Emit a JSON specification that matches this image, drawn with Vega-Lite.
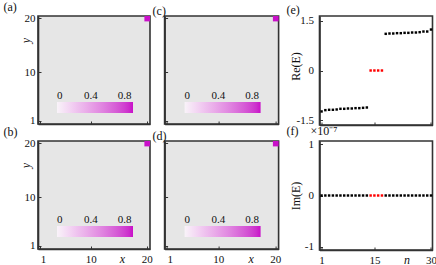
{
  "$schema": "https://vega.github.io/schema/vega-lite/v6.json",
  "padding": {"left": 2, "top": 0, "right": 0, "bottom": 0},
  "background": "white",
  "config": {
    "font": "Liberation Serif",
    "view": {"stroke": "#333333", "strokeWidth": 1.6, "strokeOpacity": 1},
    "axis": {"domain": true, "domainColor": "#333333", "domainWidth": 1.6, "domainOpacity": 1, "grid": false, "ticks": true, "tickSize": -3, "tickColor": "#333333", "tickWidth": 1, "labelFont": "Liberation Serif", "labelFontSize": 11, "labelColor": "#111", "titleFont": "Liberation Serif", "titleFontSize": 12, "titleFontWeight": "normal", "titleColor": "#111", "labelPadding": 6},
    "title": {"font": "Liberation Serif", "fontSize": 12, "fontWeight": "normal", "anchor": "start", "frame": "group", "offset": -2, "baseline": "bottom", "color": "#111"},
    "legend": {"labelFont": "Liberation Serif", "labelFontSize": 11, "labelColor": "#111", "padding": 0}
  },
  "datasets": {
    "heat": [
      {"panel": "a", "x": 20, "y": 20, "v": 0.9},
      {"panel": "b", "x": 20, "y": 20, "v": 0.9},
      {"panel": "c", "x": 20, "y": 20, "v": 0.9},
      {"panel": "d", "x": 20, "y": 20, "v": 0.9}
    ],
    "spec": [
      {"n": 1, "re": -1.24, "im": 0, "kind": "bulk"},
      {"n": 2, "re": -1.20, "im": 0, "kind": "bulk"},
      {"n": 3, "re": -1.19, "im": 0, "kind": "bulk"},
      {"n": 4, "re": -1.19, "im": 0, "kind": "bulk"},
      {"n": 5, "re": -1.18, "im": 0, "kind": "bulk"},
      {"n": 6, "re": -1.16, "im": 0, "kind": "bulk"},
      {"n": 7, "re": -1.16, "im": 0, "kind": "bulk"},
      {"n": 8, "re": -1.15, "im": 0, "kind": "bulk"},
      {"n": 9, "re": -1.15, "im": 0, "kind": "bulk"},
      {"n": 10, "re": -1.14, "im": 0, "kind": "bulk"},
      {"n": 11, "re": -1.14, "im": 0, "kind": "bulk"},
      {"n": 12, "re": -1.13, "im": 0, "kind": "bulk"},
      {"n": 13, "re": -1.12, "im": 0, "kind": "bulk"},
      {"n": 14, "re": 0, "im": 0, "kind": "zero"},
      {"n": 15, "re": 0, "im": 0, "kind": "zero"},
      {"n": 16, "re": 0, "im": 0, "kind": "zero"},
      {"n": 17, "re": 0, "im": 0, "kind": "zero"},
      {"n": 18, "re": 1.11, "im": 0, "kind": "bulk"},
      {"n": 19, "re": 1.12, "im": 0, "kind": "bulk"},
      {"n": 20, "re": 1.12, "im": 0, "kind": "bulk"},
      {"n": 21, "re": 1.13, "im": 0, "kind": "bulk"},
      {"n": 22, "re": 1.13, "im": 0, "kind": "bulk"},
      {"n": 23, "re": 1.14, "im": 0, "kind": "bulk"},
      {"n": 24, "re": 1.14, "im": 0, "kind": "bulk"},
      {"n": 25, "re": 1.15, "im": 0, "kind": "bulk"},
      {"n": 26, "re": 1.15, "im": 0, "kind": "bulk"},
      {"n": 27, "re": 1.16, "im": 0, "kind": "bulk"},
      {"n": 28, "re": 1.18, "im": 0, "kind": "bulk"},
      {"n": 29, "re": 1.18, "im": 0, "kind": "bulk"},
      {"n": 30, "re": 1.24, "im": 0, "kind": "bulk"}
    ]
  },
  "spacing": 3.5,
  "bounds": "full",
  "resolve": {"scale": {"color": "independent"}, "legend": {"color": "independent"}},
  "hconcat": [
    {
      "columns": 2,
      "spacing": {"row": 17, "column": 14.6},
      "bounds": "flush",
      "resolve": {"scale": {"color": "independent"}, "legend": {"color": "independent"}},
      "concat": [
        {
          "width": 112, "height": 108,
          "title": {"text": "(a)", "dx": -34.5},
          "view": {"fill": "#e6e6e6", "stroke": "#333333", "strokeWidth": 1.6},
          "data": {"name": "heat"},
          "transform": [{"filter": "datum.panel === 'a'"}],
          "mark": {"type": "rect"},
          "encoding": {
            "x": {"field": "x", "type": "ordinal", "scale": {"domain": [1,2,3,4,5,6,7,8,9,10,11,12,13,14,15,16,17,18,19,20], "paddingInner": 0, "paddingOuter": 0}, "axis": {"values": [1, 10, 20], "labels": false, "title": null}},
            "y": {"field": "y", "type": "ordinal", "scale": {"domain": [20,19,18,17,16,15,14,13,12,11,10,9,8,7,6,5,4,3,2,1], "paddingInner": 0, "paddingOuter": 0}, "axis": {"values": [20, 10, 1], "labelPadding": 6, "title": "y", "titleFontStyle": "italic", "titleX": -13, "titleY": 24, "titleAngle": -90, "titleAlign": "center", "titleBaseline": "middle"}},
            "color": {"field": "v", "type": "quantitative", "scale": {"domain": [0, 0.9], "range": ["#f9f3f9", "#c910c9"]}, "legend": {"orient": "none", "legendX": 19, "legendY": 86, "direction": "horizontal", "gradientLength": 76, "gradientThickness": 11, "gradientStrokeWidth": 0, "title": null, "values": [0, 0.4, 0.8], "format": "~g", "labelAlign": "center", "labelOffset": -23, "labelOverlap": false}}
          }
        },
        {
          "width": 114, "height": 108,
          "title": {"text": "(c)", "dx": -12},
          "view": {"fill": "#e6e6e6", "stroke": "#333333", "strokeWidth": 1.6},
          "data": {"name": "heat"},
          "transform": [{"filter": "datum.panel === 'c'"}],
          "mark": {"type": "rect"},
          "encoding": {
            "x": {"field": "x", "type": "ordinal", "scale": {"domain": [1,2,3,4,5,6,7,8,9,10,11,12,13,14,15,16,17,18,19,20], "paddingInner": 0, "paddingOuter": 0}, "axis": {"values": [1, 10, 20], "labels": false, "title": null}},
            "y": {"field": "y", "type": "ordinal", "scale": {"domain": [20,19,18,17,16,15,14,13,12,11,10,9,8,7,6,5,4,3,2,1], "paddingInner": 0, "paddingOuter": 0}, "axis": {"values": [20, 10, 1], "labels": false, "title": null}},
            "color": {"field": "v", "type": "quantitative", "scale": {"domain": [0, 0.9], "range": ["#f9f3f9", "#c910c9"]}, "legend": {"orient": "none", "legendX": 20, "legendY": 86, "direction": "horizontal", "gradientLength": 76, "gradientThickness": 11, "gradientStrokeWidth": 0, "title": null, "values": [0, 0.4, 0.8], "format": "~g", "labelAlign": "center", "labelOffset": -23, "labelOverlap": false}}
          }
        },
        {
          "width": 112, "height": 108,
          "title": {"text": "(b)", "dx": -34.5},
          "view": {"fill": "#e6e6e6", "stroke": "#333333", "strokeWidth": 1.6},
          "data": {"name": "heat"},
          "transform": [{"filter": "datum.panel === 'b'"}],
          "mark": {"type": "rect"},
          "encoding": {
            "x": {"field": "x", "type": "ordinal", "scale": {"domain": [1,2,3,4,5,6,7,8,9,10,11,12,13,14,15,16,17,18,19,20], "paddingInner": 0, "paddingOuter": 0}, "axis": {"values": [1, 10, 20], "labelAngle": 0, "labelPadding": 7, "labelFlush": true, "title": "x", "titleFontStyle": "italic", "titleX": 84, "titleY": 13, "titleAlign": "center", "titleBaseline": "alphabetic"}},
            "y": {"field": "y", "type": "ordinal", "scale": {"domain": [20,19,18,17,16,15,14,13,12,11,10,9,8,7,6,5,4,3,2,1], "paddingInner": 0, "paddingOuter": 0}, "axis": {"values": [20, 10, 1], "labelPadding": 6, "title": "y", "titleFontStyle": "italic", "titleX": -13, "titleY": 24, "titleAngle": -90, "titleAlign": "center", "titleBaseline": "middle"}},
            "color": {"field": "v", "type": "quantitative", "scale": {"domain": [0, 0.9], "range": ["#f9f3f9", "#c910c9"]}, "legend": {"orient": "none", "legendX": 19, "legendY": 85, "direction": "horizontal", "gradientLength": 76, "gradientThickness": 11, "gradientStrokeWidth": 0, "title": null, "values": [0, 0.4, 0.8], "format": "~g", "labelAlign": "center", "labelOffset": -23, "labelOverlap": false}}
          }
        },
        {
          "width": 114, "height": 108,
          "title": {"text": "(d)", "dx": -12},
          "view": {"fill": "#e6e6e6", "stroke": "#333333", "strokeWidth": 1.6},
          "data": {"name": "heat"},
          "transform": [{"filter": "datum.panel === 'd'"}],
          "mark": {"type": "rect"},
          "encoding": {
            "x": {"field": "x", "type": "ordinal", "scale": {"domain": [1,2,3,4,5,6,7,8,9,10,11,12,13,14,15,16,17,18,19,20], "paddingInner": 0, "paddingOuter": 0}, "axis": {"values": [1, 10, 20], "labelAngle": 0, "labelPadding": 7, "labelFlush": true, "title": "x", "titleFontStyle": "italic", "titleX": 86, "titleY": 13, "titleAlign": "center", "titleBaseline": "alphabetic"}},
            "y": {"field": "y", "type": "ordinal", "scale": {"domain": [20,19,18,17,16,15,14,13,12,11,10,9,8,7,6,5,4,3,2,1], "paddingInner": 0, "paddingOuter": 0}, "axis": {"values": [20, 10, 1], "labels": false, "title": null}},
            "color": {"field": "v", "type": "quantitative", "scale": {"domain": [0, 0.9], "range": ["#f9f3f9", "#c910c9"]}, "legend": {"orient": "none", "legendX": 20, "legendY": 85, "direction": "horizontal", "gradientLength": 76, "gradientThickness": 11, "gradientStrokeWidth": 0, "title": null, "values": [0, 0.4, 0.8], "format": "~g", "labelAlign": "center", "labelOffset": -23, "labelOverlap": false}}
          }
        }
      ]
    },
    {
      "spacing": 16,
      "bounds": "flush",
      "resolve": {"scale": {"color": "independent"}, "legend": {"color": "independent"}},
      "vconcat": [
        {
          "width": 113, "height": 109,
          "title": {"text": "(e)", "dx": -33},
          "view": {"stroke": "#333333", "strokeWidth": 1.6},
          "data": {"name": "spec"},
          "mark": {"type": "square", "size": 6, "opacity": 1},
          "encoding": {
            "x": {"field": "n", "type": "quantitative", "scale": {"domain": [0.45, 30.4], "nice": false, "zero": false}, "axis": {"values": [1, 15, 30], "labels": false, "title": null}},
            "y": {"field": "re", "type": "quantitative", "scale": {"domain": [-1.65, 1.65], "nice": false, "zero": false}, "axis": {"values": [-1.5, 0, 1.5], "labelExpr": "datum.value == 0 ? '0' : (datum.value < 0 ? '-' : '') + format(abs(datum.value), '~g')", "labelPadding": 9, "title": "Re(E)", "titleX": -24, "titleY": 50, "titleAngle": -90, "titleAlign": "center", "titleBaseline": "middle"}},
            "color": {"field": "kind", "type": "nominal", "scale": {"domain": ["bulk", "zero"], "range": ["#000000", "#ff0000"]}, "legend": null}
          }
        },
        {
          "width": 113, "height": 109,
          "title": {"text": "(f)\u00a0\u00a0\u00a0\u00a0×10⁻⁷", "dx": -33, "offset": 0},
          "view": {"stroke": "#333333", "strokeWidth": 1.6},
          "data": {"name": "spec"},
          "mark": {"type": "square", "size": 6, "opacity": 1},
          "encoding": {
            "x": {"field": "n", "type": "quantitative", "scale": {"domain": [0.45, 30.4], "nice": false, "zero": false}, "axis": {"values": [1, 15, 30], "labelPadding": 7, "title": "n", "titleFontStyle": "italic", "titleX": 87, "titleY": 13, "titleAlign": "center", "titleBaseline": "alphabetic"}},
            "y": {"field": "im", "type": "quantitative", "scale": {"domain": [-1.06, 1.06], "nice": false, "zero": false}, "axis": {"values": [-1, 0, 1], "labelExpr": "datum.value == 0 ? '0' : (datum.value < 0 ? '-' : '') + format(abs(datum.value), '~g')", "labelPadding": 9, "title": "Im(E)", "titleX": -24, "titleAngle": -90, "titleAlign": "center", "titleBaseline": "middle"}},
            "color": {"field": "kind", "type": "nominal", "scale": {"domain": ["bulk", "zero"], "range": ["#000000", "#ff0000"]}, "legend": null}
          }
        }
      ]
    }
  ]
}
